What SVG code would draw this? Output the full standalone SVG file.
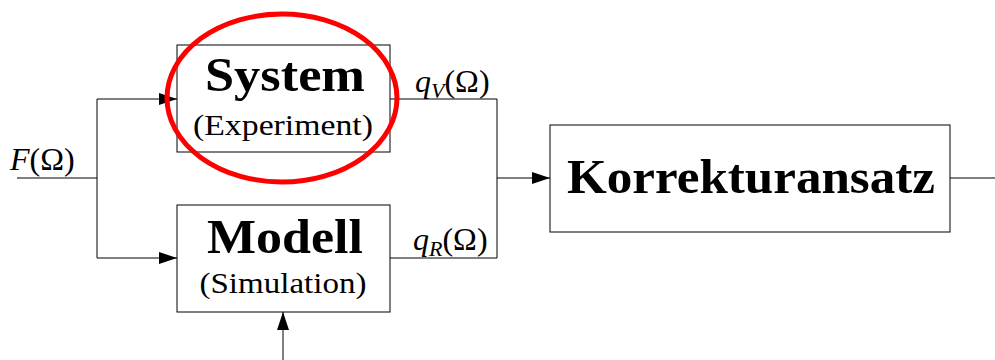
<svg xmlns="http://www.w3.org/2000/svg" width="995" height="360" viewBox="0 0 995 360">
<style>
.box{fill:#fff;stroke:#000;stroke-width:1}
.ln{fill:none;stroke:#000;stroke-width:1}
.t{font-family:"Liberation Serif","Times New Roman",serif;fill:#000}
.b{font-weight:bold;font-size:48px}
.s{font-size:29px}
.m{font-size:32px}
</style>
<defs>
<marker id="ar" markerWidth="18" markerHeight="12" refX="18" refY="6" orient="auto" markerUnits="userSpaceOnUse">
<path d="M0,0 L18,6 L0,12 z" fill="#000"/>
</marker>
</defs>
<rect width="995" height="360" fill="#fff"/>
<g id="connectors">
<path class="ln" d="M17,178 H97"/>
<path class="ln" d="M97,99 V258"/>
<path class="ln" d="M97,99 H177" marker-end="url(#ar)"/>
<path class="ln" d="M97,258 H177" marker-end="url(#ar)"/>
<path class="ln" d="M390,99 H497 V258 H390"/>
<path class="ln" d="M497,178 H550" marker-end="url(#ar)"/>
<path class="ln" d="M950,178 H995"/>
<path class="ln" d="M283,360 V312" marker-end="url(#ar)"/>
</g>
<g id="system">
<rect class="box" x="177" y="45" width="213" height="107"/>
<text class="t b" x="285" y="91" text-anchor="middle" textLength="160" lengthAdjust="spacingAndGlyphs">System</text>
<text class="t s" x="283" y="135" text-anchor="middle" textLength="180" lengthAdjust="spacingAndGlyphs">(Experiment)</text>
</g>
<g id="modell">
<rect class="box" x="177" y="205" width="213" height="107"/>
<text class="t b" x="285" y="253" text-anchor="middle" textLength="156" lengthAdjust="spacingAndGlyphs">Modell</text>
<text class="t s" x="283" y="293" text-anchor="middle" textLength="167" lengthAdjust="spacingAndGlyphs">(Simulation)</text>
</g>
<g id="korrektur">
<rect class="box" x="550" y="125" width="400" height="107"/>
<text class="t b" x="751" y="193" text-anchor="middle" textLength="368" lengthAdjust="spacingAndGlyphs">Korrekturansatz</text>
</g>
<g id="labels">
<text class="t m" x="10" y="170"><tspan font-style="italic">F</tspan>(Ω)</text>
<text class="t m" x="415" y="92"><tspan font-style="italic">q</tspan><tspan font-style="italic" font-size="22" dy="6">V</tspan><tspan dy="-6">(Ω)</tspan></text>
<text class="t m" x="413" y="250"><tspan font-style="italic">q</tspan><tspan font-style="italic" font-size="22" dy="6">R</tspan><tspan dy="-6">(Ω)</tspan></text>
</g>
<g id="highlight">
<ellipse cx="282" cy="98" rx="115" ry="84" fill="none" stroke="#f00" stroke-width="5"/>
</g>
</svg>
